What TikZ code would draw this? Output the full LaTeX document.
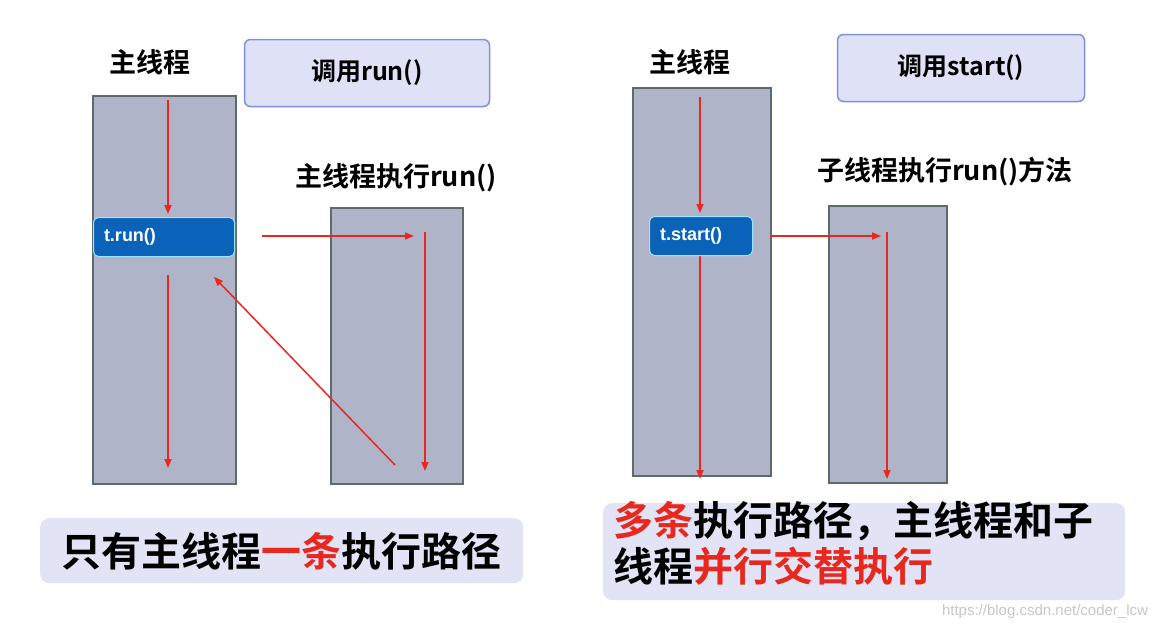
\documentclass[tikz,border=0pt]{standalone}
\usepackage{fontspec}
\setmainfont{Liberation Sans}
\newfontfamily\cjk{Noto Sans CJK SC}[BoldFont={* Bold}]
\usetikzlibrary{arrows.meta}
\definecolor{thr}{HTML}{B0B4C9}
\definecolor{thrb}{HTML}{5E6B6B}
\definecolor{callf}{HTML}{DFE2F7}
\definecolor{callb}{HTML}{7F8FE6}
\definecolor{blu}{HTML}{0A63B8}
\definecolor{ared}{HTML}{E8281E}
\definecolor{bot}{HTML}{E2E4F6}
\tikzset{
 thread/.style={draw=thrb,fill=thr,line width=1.5pt},
 call/.style={draw=callb,fill=callf,line width=1.5pt,rounded corners=6pt,font=\cjk\bfseries\fontsize{25}{28}\selectfont},
 tnode/.style={draw=blue!25!cyan!40,fill=blu,line width=1pt,rounded corners=5pt,text=white,font=\bfseries\fontsize{18}{20}\selectfont,anchor=north west},
 lbl/.style={font=\cjk\bfseries\fontsize{27}{30}\selectfont},
 arr/.style={draw=ared,line width=1.5pt,-{Triangle[length=9pt,width=7pt]}},
 botbox/.style={fill=bot,rounded corners=9pt},
 big/.style={font=\cjk\bfseries\fontsize{40}{46}\selectfont,align=left}
}
\begin{document}
\begin{tikzpicture}[x=1pt,y=-1pt]
\useasboundingbox (0,0) rectangle (1165,629);
% left panel
\node[lbl] (m1) at (150,62) {主线程};
\node[call,minimum width=245pt,minimum height=67pt] (c1) at (367,73) {调用run()};
\node[thread,minimum width=143pt,minimum height=388pt,anchor=north west] (L1) at (92,95) {};
\node[tnode,minimum width=141pt,minimum height=39pt,text width=120pt] (tr) at (93,217) {t.run()};
\node[lbl] (s1) at (396,178) {主线程执行run()};
\node[thread,minimum width=132pt,minimum height=276pt,anchor=north west] (R1) at (330,207) {};
\coordinate (a1) at (168,100); \coordinate (a2) at (168,214);
\coordinate (a3) at (168,275); \coordinate (a4) at (168,468);
\coordinate (b1) at (262,236); \coordinate (b2) at (414,236);
\coordinate (b3) at (425,232); \coordinate (b4) at (425,471);
\coordinate (d1) at (395,465); \coordinate (d2) at (214,277);
\draw[arr] (a1) -- (a2);
\draw[arr] (a3) -- (a4);
\draw[arr] (b1) -- (b2);
\draw[arr] (b3) -- (b4);
\draw[arr] (d1) -- (d2);
\node[botbox,minimum width=483pt,minimum height=65pt,anchor=north west] (bb1) at (40,518) {};
\node[big,anchor=west] (t1) at (58,551) {只有主线程\textcolor{ared}{一条}执行路径};
% right panel
\node[lbl] (m2) at (690,62) {主线程};
\node[call,minimum width=247pt,minimum height=67pt] (c2) at (961,68) {调用start()};
\node[thread,minimum width=138pt,minimum height=388pt,anchor=north west] (L2) at (632,87) {};
\node[lbl] (s2) at (945,172) {子线程执行run()方法};
\node[thread,minimum width=118pt,minimum height=277pt,anchor=north west] (R2) at (828,205) {};
\coordinate (e1) at (700,97); \coordinate (e2) at (700,213);
\coordinate (e3) at (700,250); \coordinate (e4) at (700,479);
\coordinate (f1) at (770,236); \coordinate (f2) at (881,236);
\coordinate (f3) at (887,232); \coordinate (f4) at (887,479);
\draw[arr] (e1) -- (e2);
\draw[arr] (e3) -- (e4);
\draw[arr] (f1) -- (f2);
\draw[arr] (f3) -- (f4);
\node[tnode,minimum width=103pt,minimum height=39pt,text width=82pt] (ts) at (649,216) {t.start()};
\node[botbox,minimum width=522pt,minimum height=97pt,anchor=north west] (bb2) at (603,503) {};
\node[big,anchor=north west] (t2) at (610,498) {\textcolor{ared}{多条}执行路径，主线程和子\\线程\textcolor{ared}{并行交替执行}};
\node[text=black!22,font=\fontsize{15}{17}\selectfont] (wm) at (1045,612) {https://blog.csdn.net/coder\_lcw};
\end{tikzpicture}
\end{document}
